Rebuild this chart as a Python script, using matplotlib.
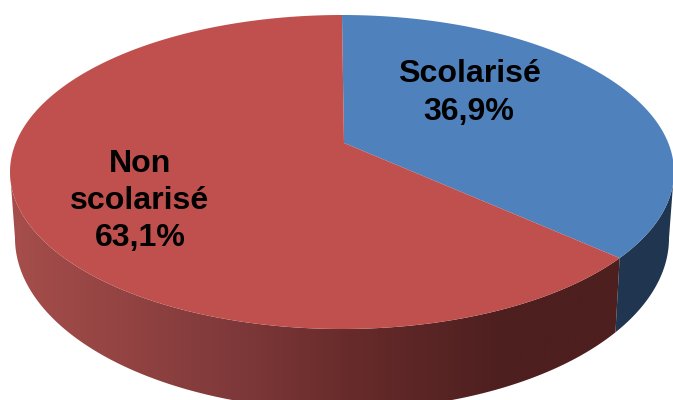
import numpy as np
import matplotlib
matplotlib.use("Agg")
import matplotlib.pyplot as plt
from matplotlib.colors import LinearSegmentedColormap
from matplotlib.patches import Polygon

categories = ["Scolarisé", "Non\nscolarisé"]
shares = [36.9, 63.1]

top_colors = ["#4f81bd", "#c0504d"]
blue_side = "#1f3550"
red_side_stops = ["#a64e4b", "#80393a", "#682b2b", "#4e1f1f", "#4e1f1f"]

# tilted disc, in pixel units
cx, cy, rx, ry = 342, 172, 332, 157
base_cx, base_cy, base_rx, base_ry = 342, 238, 327, 172
apex_x, apex_y = 0.006, 0.185
stretch = 1.05

plt.rcParams["font.family"] = ["Liberation Sans", "DejaVu Sans"]

fig = plt.figure(figsize=(6.73, 4), dpi=100)
ax = fig.add_axes([0, 0, 1, 1])
ax.set_xlim(0, 673)
ax.set_ylim(400, 0)
ax.axis("off")


def rim_angle(share):
    # clockwise sweep from 12 o'clock, projected onto the rim from the off-centre apex
    sweep = 2 * np.pi * share / 100
    d = np.array([np.sin(sweep) * stretch, np.cos(sweep)])
    d = d / np.linalg.norm(d)
    p = np.array([apex_x, apex_y])
    b = p @ d
    t = -b + np.sqrt(b * b - (p @ p - 1))
    q = p + t * d
    return np.arctan2(q[1], q[0])


def on_top(a):
    return cx + rx * np.cos(a), cy - ry * np.sin(a)


def on_base(a):
    return base_cx + base_rx * np.cos(a), base_cy - base_ry * np.sin(a)


split = rim_angle(shares[0])

# side walls
a_blue = np.linspace(split, 0, 80)
a_red = np.linspace(-np.pi, split, 300)


def wall(angles):
    tx, ty = on_top(angles)
    bx, by = on_base(angles)
    return np.column_stack([np.r_[tx, bx[::-1]], np.r_[ty, by[::-1]]])


ax.add_patch(Polygon(wall(a_blue), closed=True, fc=blue_side, ec="none", zorder=1))

red_wall = Polygon(wall(a_red), closed=True, fc="none", ec="none", zorder=1)
ax.add_patch(red_wall)
cmap = LinearSegmentedColormap.from_list(
    "wall",
    list(zip([0, 0.36, 0.55, 0.8, 1], red_side_stops)),
)
shade = ax.imshow(
    np.linspace(0, 1, 256).reshape(1, -1),
    extent=(10, 625, 400, 0),
    cmap=cmap,
    aspect="auto",
    zorder=1,
)
shade.set_clip_path(red_wall)
ax.set_xlim(0, 673)
ax.set_ylim(400, 0)

# top faces
a1 = np.linspace(np.pi / 2, split, 200)
x1, y1 = on_top(a1)
apex = (cx + rx * apex_x, cy - ry * apex_y)
ax.add_patch(Polygon(np.column_stack([np.r_[apex[0], x1], np.r_[apex[1], y1]]),
                     closed=True, fc=top_colors[0], ec="none", zorder=2))
a2 = np.linspace(split, split - (2 * np.pi + split - np.pi / 2), 400)
x2, y2 = on_top(a2)
ax.add_patch(Polygon(np.column_stack([np.r_[apex[0], x2], np.r_[apex[1], y2]]),
                     closed=True, fc=top_colors[1], ec="none", zorder=2))

# labels
label_pos = [(469, 93), (140, 201)]
for name, share, (lx, ly) in zip(categories, shares, label_pos):
    label = f"{name}\n{share:.1f}%".replace(".", ",")
    ax.text(lx, ly, label, ha="center", va="center", fontsize=23.1,
            fontweight="bold", color="black", linespacing=1.31, zorder=3)

fig.savefig("out.png", dpi=100, facecolor="white")
